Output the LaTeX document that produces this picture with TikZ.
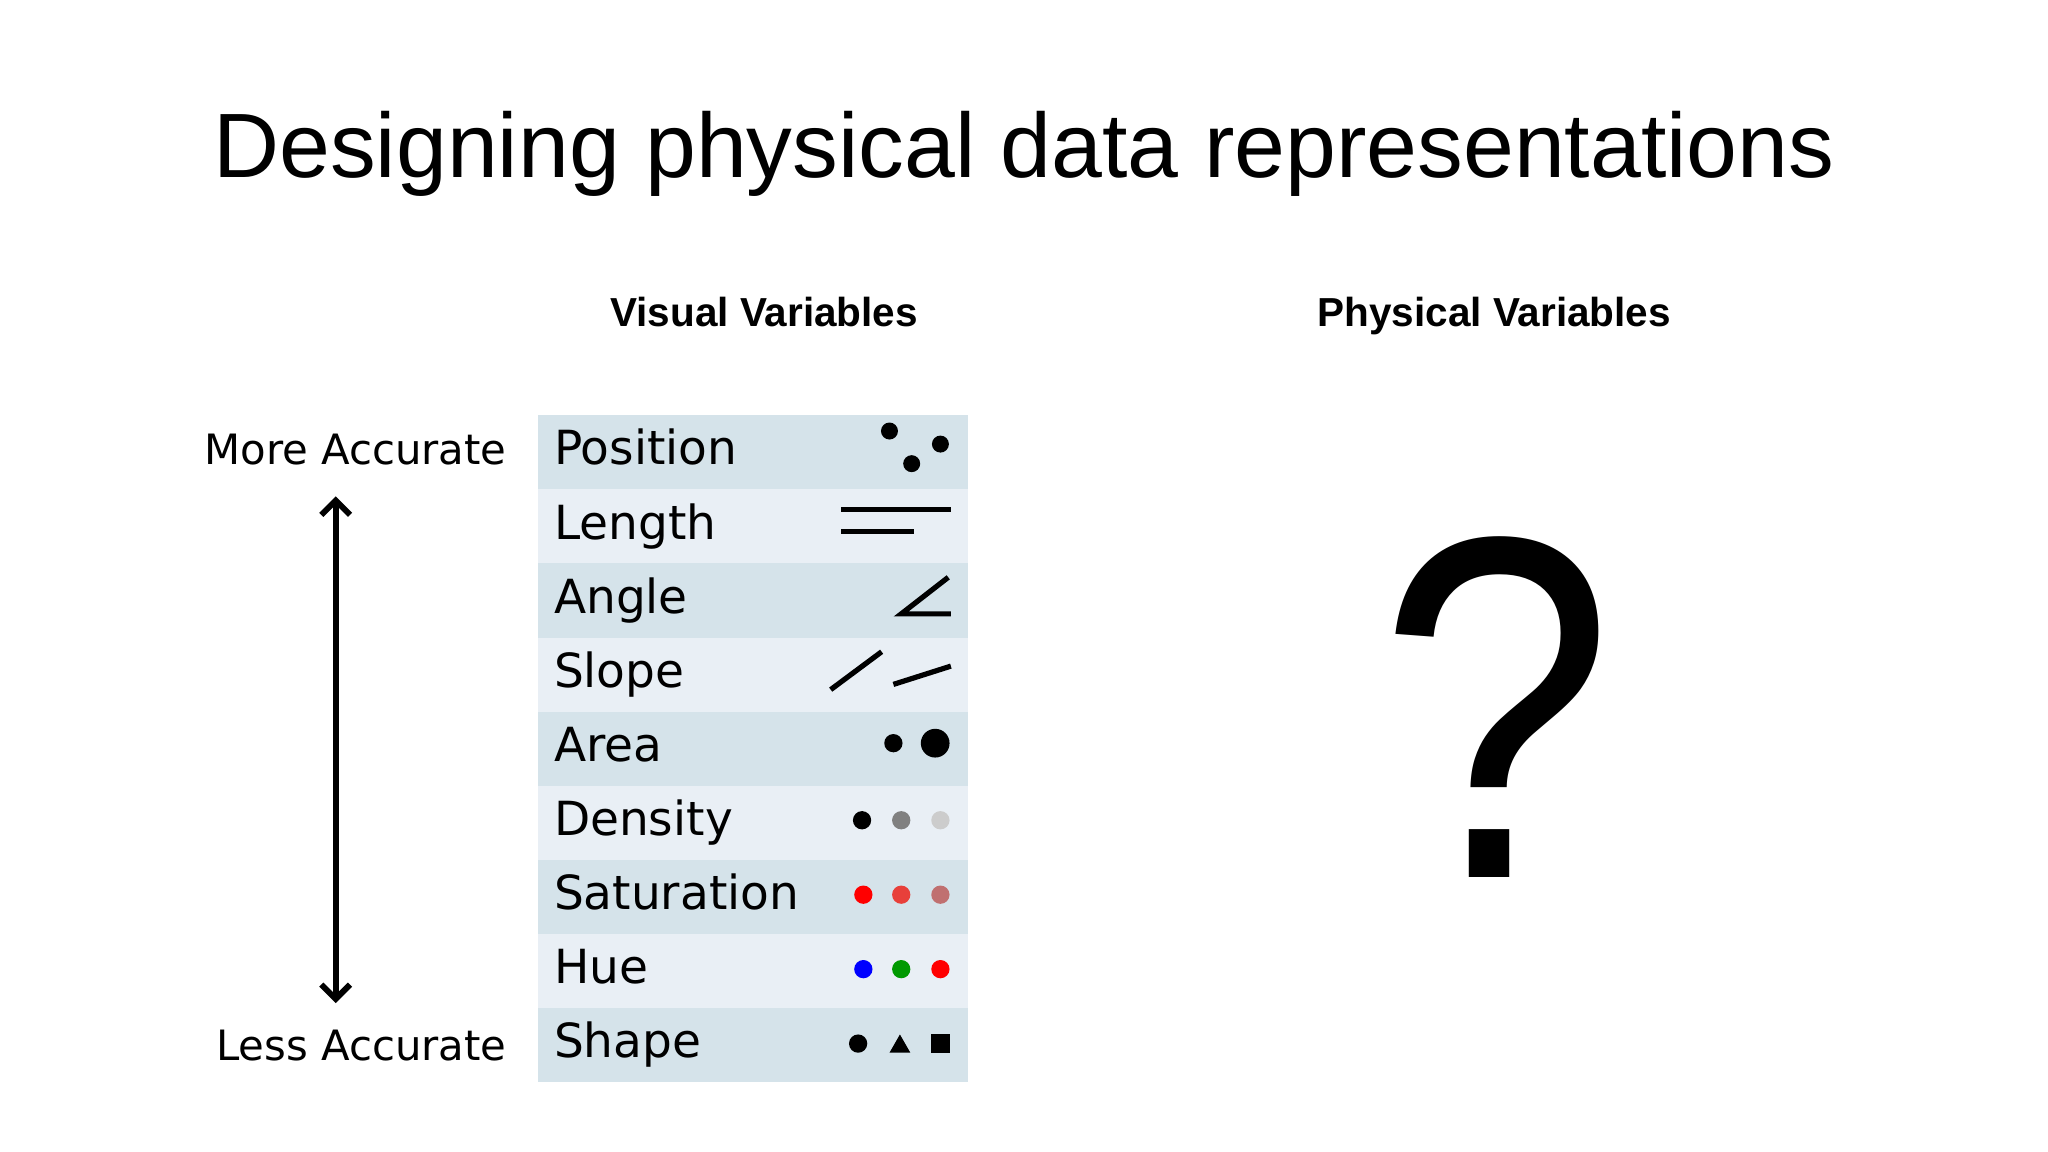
\documentclass[tikz,border=0pt]{standalone}
\usepackage{fontspec}
\setmainfont{Liberation Sans}
\newfontfamily\vfont{DejaVu Sans}
\usetikzlibrary{arrows.meta}
\definecolor{rowA}{HTML}{D5E3EA}
\definecolor{rowB}{HTML}{E9EFF5}
\definecolor{satB}{HTML}{E8403A}
\definecolor{satC}{HTML}{C07070}
\begin{document}
\begin{tikzpicture}[x=1pt,y=-1pt,
  lbl/.style={anchor=base west,font=\vfont\fontsize{36}{40}\selectfont,inner sep=0},
  side/.style={anchor=base east,font=\vfont\fontsize{32}{36}\selectfont,inner sep=0},
  head/.style={anchor=base,font=\bfseries\fontsize{31}{36}\selectfont},
  mk/.style={line width=4pt}]
\useasboundingbox[fill=white] (0,0) rectangle (1568,882);
\node[anchor=base,font=\fontsize{70}{80}\selectfont] (title) at (784,136) {Designing physical data representations};
\node[head] (vv) at (585,250) {Visual Variables};
\node[head] (pv) at (1144,250) {Physical Variables};
\foreach \i/\t in {0/Position,1/Length,2/Angle,3/Slope,4/Area,5/Density,6/Saturation,7/Hue,8/Shape}{
  \pgfmathsetmacro\ya{318+\i*56.7}
  \ifodd\i \fill[rowB] (412,\ya) rectangle (741,\ya+56.7);
  \else \fill[rowA] (412,\ya) rectangle (741,\ya+56.7); \fi
  \node[lbl] (r\i) at (424,\ya+38) {\t};
}
\fill (681,330) circle (6.5); \fill (720,340) circle (6.5); \fill (698,355) circle (6.5);
\draw[mk] (644,390) -- (728,390); \draw[mk] (644,407) -- (700,407);
\draw[mk] (726,442) -- (690,470) -- (728,470);
\draw[mk] (636,528) -- (675,499); \draw[mk] (684,524) -- (728,510);
\fill (684,569) circle (7); \fill (716,569) circle (11);
\fill (660,628) circle (7); \fill[gray] (690,628) circle (7); \fill[black!20] (720,628) circle (7);
\fill[red] (661,685) circle (7); \fill[satB] (690,685) circle (7); \fill[satC] (720,685) circle (7);
\fill[blue] (661,742) circle (7); \fill[green!60!black] (690,742) circle (7); \fill[red] (720,742) circle (7);
\fill (657,799) circle (7); \fill (681,806) -- (689,792) -- (697,806) -- cycle; \fill (713,792) rectangle (727,806);
\node[side] (more) at (388,356) {More Accurate};
\node[side] (less) at (388,812) {Less Accurate};
\coordinate (at) at (257,380); \coordinate (ab) at (257,768);
\draw[line width=4.5pt,{Straight Barb[length=11pt,width=22pt,line width=4.5pt]}-{Straight Barb[length=11pt,width=22pt,line width=4.5pt]}] (at) -- (ab);
\node[anchor=base,font=\fontsize{325}{330}\selectfont,inner sep=0,yscale=1.15] (q) at (1146,672) {?};
\end{tikzpicture}
\end{document}
